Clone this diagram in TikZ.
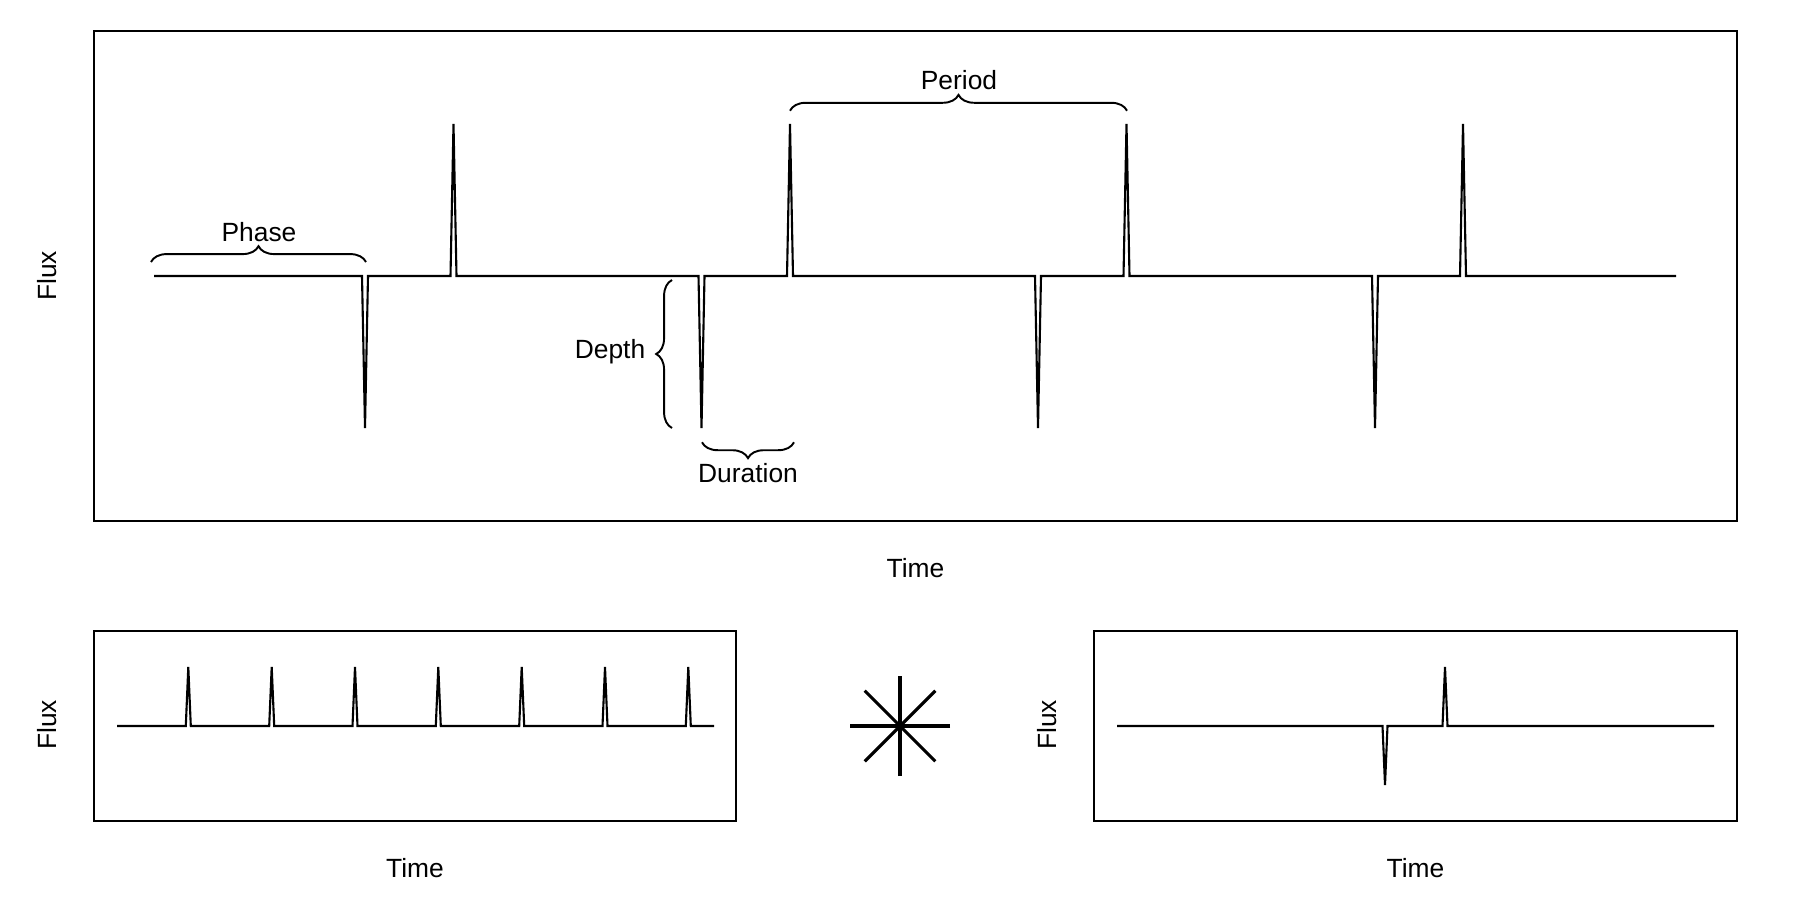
\documentclass[tikz,border=0pt]{standalone}
\usepackage{fontspec}
\setmainfont{Liberation Sans}
\usetikzlibrary{decorations.pathreplacing}
\begin{document}
\begin{tikzpicture}[x=0.01cm,y=-0.01cm,
  frame/.style={draw=black,line width=0.4pt},
  signal/.style={draw=black,line width=0.6pt},
  curly/.style={draw=black,line width=0.55pt,decorate,decoration={brace,amplitude=4.5pt}},
  lbl/.style={font=\fontsize{7.5}{9}\selectfont,inner sep=0pt,text=black},
  star/.style={draw=black,line width=0.9pt}]
\useasboundingbox (0,0) rectangle (1800,900);

% ---- main light curve ----
\draw[frame] (94,31) rectangle (1737,521);
\draw[signal] (154,276) -- (362,276) -- (365,428) -- (368,276)
  -- (450.5,276) -- (453.5,124) -- (456.5,276)
  -- (698.5,276) -- (701.5,428) -- (704.5,276)
  -- (787,276) -- (790,124) -- (793,276)
  -- (1035,276) -- (1038,428) -- (1041,276)
  -- (1123.5,276) -- (1126.5,124) -- (1129.5,276)
  -- (1372,276) -- (1375,428) -- (1378,276)
  -- (1460,276) -- (1463,124) -- (1466,276)
  -- (1676,276);

% annotations
\draw[curly] (151,262) -- (366,262);
\node[lbl,anchor=base] (phase) at (259,241.7) {Phase};
\draw[curly] (790,110.7) -- (1127,110.7);
\node[lbl,anchor=base] (period) at (959,89.3) {Period};
\draw[curly] (672,428) -- (672,280);
\node[lbl,anchor=base] (depth) at (610,358.3) {Depth};
\draw[curly] (794,442.3) -- (702,442.3);
\node[lbl,anchor=base] (duration) at (748,482.3) {Duration};

\node[lbl,anchor=base] (time1) at (915.5,577) {Time};
\node[lbl,rotate=90] (flux1) at (46.7,276) {Flux};

% ---- periodic pulse train ----
\draw[frame] (94,631) rectangle (736,821);
\draw[signal] (117,726)
  -- (185.8,726) -- (188.3,667) -- (190.8,726)
  -- (269.2,726) -- (271.7,667) -- (274.2,726)
  -- (352.5,726) -- (355,667) -- (357.5,726)
  -- (435.8,726) -- (438.3,667) -- (440.8,726)
  -- (519.2,726) -- (521.7,667) -- (524.2,726)
  -- (602.5,726) -- (605,667) -- (607.5,726)
  -- (685.8,726) -- (688.3,667) -- (690.8,726)
  -- (714,726);
\node[lbl,anchor=base] (time2) at (415,877) {Time};
\node[lbl,rotate=90] (flux2) at (46.7,725) {Flux};

% ---- convolution symbol ----
\coordinate (conv) at (900,726);
\foreach \a in {0,45,90,135}
  \draw[star,shift={(conv)}] (\a:50) -- (\a+180:50);

% ---- single transit kernel ----
\draw[frame] (1094,631) rectangle (1737,821);
\draw[signal] (1117,726)
  -- (1382.5,726) -- (1385,785) -- (1387.5,726)
  -- (1442.5,726) -- (1445,667) -- (1447.5,726)
  -- (1714,726);
\node[lbl,anchor=base] (time3) at (1415.5,877) {Time};
\node[lbl,rotate=90] (flux3) at (1047,725) {Flux};
\end{tikzpicture}
\end{document}
